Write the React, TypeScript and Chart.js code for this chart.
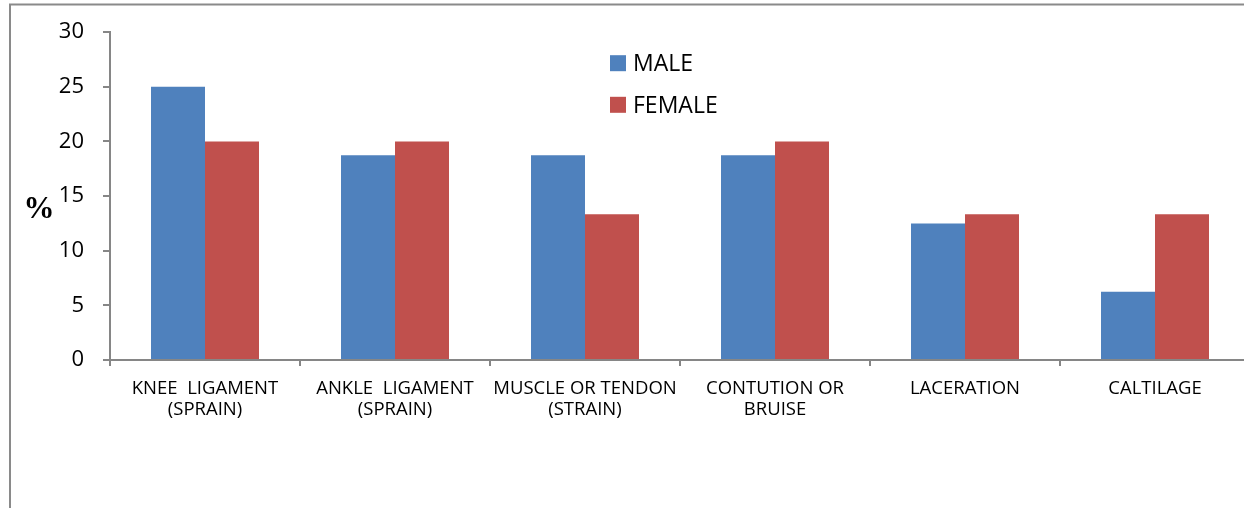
import React, { useEffect, useRef } from 'react';
import { Chart, registerables } from 'chart.js';

Chart.register(...registerables);

const categories: (string | string[])[] = [
  ['KNEE  LIGAMENT', '(SPRAIN)'],
  ['ANKLE  LIGAMENT', '(SPRAIN)'],
  ['MUSCLE OR TENDON', '(STRAIN)'],
  ['CONTUTION OR', 'BRUISE'],
  'LACERATION',
  'CALTILAGE',
];
const maleValues = [25, 18.75, 18.75, 18.75, 12.5, 6.25];
const femaleValues = [20, 20, 13.33, 20, 13.33, 13.33];
const seriesNames = ['MALE', 'FEMALE'];
const seriesColors = ['#4F81BD', '#C0504D'];
const yMin = 0;
const yMax = 30;
const yStep = 5;
const yTitle = '%';

const FONT = '"Open Sans", "Noto Sans", sans-serif';
const AXIS_COLOR = '#868686';

const decorPlugin = {
  id: 'decor',
  beforeDraw(chart: any) {
    const ctx = chart.ctx;
    ctx.save();
    ctx.fillStyle = '#ffffff';
    ctx.fillRect(0, 0, chart.width, chart.height);
    ctx.strokeStyle = '#8a8a8a';
    ctx.lineWidth = 2;
    ctx.beginPath();
    ctx.moveTo(10, chart.height + 10);
    ctx.lineTo(10, 4.5);
    ctx.lineTo(chart.width + 10, 4.5);
    ctx.stroke();
    ctx.restore();
  },
  afterDraw(chart: any) {
    const ctx = chart.ctx;
    ctx.save();
    ctx.fillStyle = '#000';
    ctx.font = 'bold 31px "Liberation Serif", serif';
    ctx.textAlign = 'center';
    ctx.textBaseline = 'alphabetic';
    ctx.fillText(yTitle, 39, 218);
    ctx.font = `23px ${FONT}`;
    ctx.textAlign = 'left';
    chart.data.datasets.forEach((ds: any, i: number) => {
      const baseY = 71.2 + i * 41.6;
      ctx.fillStyle = ds.backgroundColor;
      ctx.fillRect(610, baseY - 16, 16, 16);
      ctx.fillStyle = '#000';
      ctx.fillText(ds.label, 633, baseY);
    });
    ctx.restore();
  },
};

export default function App() {
  const ref = useRef<HTMLCanvasElement>(null);
  useEffect(() => {
    let chart: Chart | null = null;
    let cancelled = false;
    const make = () => {
      if (cancelled || !ref.current) return;
      chart = new Chart(ref.current, {
        type: 'bar',
        data: {
          labels: categories,
          datasets: [
            { label: seriesNames[0], data: maleValues, backgroundColor: seriesColors[0], borderWidth: 0 },
            { label: seriesNames[1], data: femaleValues, backgroundColor: seriesColors[1], borderWidth: 0 },
          ],
        },
        options: {
          animation: false,
          responsive: false,
          maintainAspectRatio: false,
          layout: { padding: { left: 59, top: 31, right: 10, bottom: 0 } },
          plugins: { legend: { display: false }, tooltip: { enabled: false } },
          datasets: { bar: { categoryPercentage: 108 / 190, barPercentage: 1 } },
          scales: {
            x: {
              grid: { display: true, drawOnChartArea: false, offset: true, color: AXIS_COLOR, tickLength: 6, lineWidth: 2 },
              border: { color: AXIS_COLOR, width: 2 },
              ticks: { color: '#000', font: { family: FONT, size: 18.5, lineHeight: 1.15 }, padding: 12, maxRotation: 0, autoSkip: false },
              afterFit: (s: any) => { s.height = 160; },
            },
            y: {
              min: yMin,
              max: yMax,
              grid: { display: true, drawOnChartArea: false, color: AXIS_COLOR, tickLength: 7, lineWidth: 2 },
              border: { color: AXIS_COLOR, width: 2 },
              ticks: { stepSize: yStep, color: '#000', font: { family: FONT, size: 22 }, padding: 19 },
              afterFit: (s: any) => { s.width = 51; },
            },
          },
        },
        plugins: [decorPlugin],
      });
    };
    const fontsReady = (document as any).fonts
      ? Promise.all([
          (document as any).fonts.load(`22px "Open Sans"`),
          (document as any).fonts.load(`bold 31px "Liberation Serif"`),
        ]).catch(() => null)
      : Promise.resolve();
    fontsReady.then(make);
    return () => {
      cancelled = true;
      if (chart) chart.destroy();
    };
  }, []);
  return (
    <div style={{ position: 'fixed', left: 0, top: 0, width: 1260, height: 520, overflow: 'hidden', background: '#fff' }}>
      <canvas ref={ref} width={1260} height={520} style={{ width: 1260, height: 520, display: 'block' }} />
    </div>
  );
}
